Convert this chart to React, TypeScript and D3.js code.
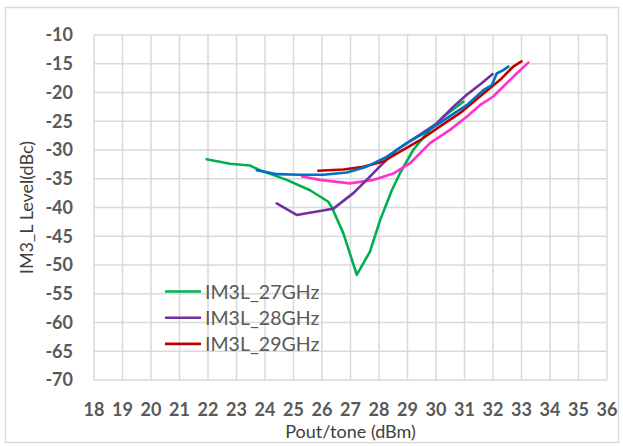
import React from "react";
import * as d3 from "d3";

type Pt = [number, number];

// Pout/tone (dBm) vs IM3 lower-side level (dBc)
const im3l27GHz: Pt[] = [
  [21.95, -31.6], [22.77, -32.4], [23.47, -32.7], [23.82, -33.5], [24.76, -35.2],
  [25.58, -37.0], [26.22, -39.0], [26.34, -39.9], [26.75, -44.5], [27.22, -51.7],
  [27.68, -47.7], [28.04, -42.2], [28.45, -37.0], [28.74, -34.0], [29.2, -30.0],
  [29.67, -27.1], [30.26, -24.2], [30.96, -21.6],
];
const im3l28GHz: Pt[] = [
  [24.41, -39.3], [25.11, -41.3], [25.93, -40.6], [26.4, -40.2], [27.1, -37.5],
  [27.57, -35.2], [28.04, -32.8], [28.62, -30.0], [29.32, -27.7], [30.02, -25.4],
  [30.6, -22.5], [31.08, -20.4], [31.6, -18.4], [31.99, -16.8],
];
const im3l29GHz: Pt[] = [
  [25.87, -33.6], [26.75, -33.4], [27.45, -32.9], [28.15, -32.0], [28.74, -30.3],
  [29.44, -28.3], [30.14, -25.9], [30.84, -23.6], [31.54, -20.7], [32.25, -17.8],
  [32.71, -15.5], [33.0, -14.6],
];
const im3lMagenta: Pt[] = [
  [25.3, -34.6], [25.93, -35.2], [26.98, -35.8], [27.8, -35.2], [28.5, -34.1],
  [29.09, -32.3], [29.79, -28.8], [30.49, -26.5], [31.08, -24.2], [31.54, -22.2],
  [32.01, -20.7], [32.48, -18.4], [32.83, -16.7], [33.24, -14.8],
];
const im3lBlue: Pt[] = [
  [23.71, -33.5], [24.41, -34.2], [25.23, -34.3], [26.05, -34.3], [26.87, -33.9],
  [27.57, -32.9], [28.27, -31.2], [28.97, -28.8], [29.67, -26.8], [30.37, -24.5],
  [31.08, -22.2], [31.66, -19.6], [31.96, -18.7], [32.13, -16.7], [32.36, -16.1],
  [32.54, -15.5],
];

const xTicks = d3.range(18, 37, 1);
const yTicks = d3.range(-10, -71, -5);

const series = [
  { name: "IM3L_27GHz", data: im3l27GHz, color: "#00B050", legend: true },
  { name: "IM3L_28GHz", data: im3l28GHz, color: "#7030A0", legend: true },
  { name: "IM3L_29GHz", data: im3l29GHz, color: "#C00000", legend: true },
  { name: "magenta", data: im3lMagenta, color: "#FF33CC", legend: false },
  { name: "blue", data: im3lBlue, color: "#0070C0", legend: false },
];

const W = 623;
const H = 446;
const plot = { left: 94, right: 607, top: 35, bottom: 380 };
const font = "Lato, 'Open Sans', sans-serif";
const textColor = "#595959";
const gridColor = "#d9d9d9";

export default function App() {
  const x = d3.scaleLinear().domain([18, 36]).range([plot.left, plot.right]);
  const y = d3.scaleLinear().domain([-70, -10]).range([plot.bottom, plot.top]);
  const line = d3
    .line<Pt>()
    .x((d) => x(d[0]))
    .y((d) => y(d[1]));

  const drawOrder = [series[0], series[3], series[1], series[2], series[4]];

  return (
    <svg
      width={W}
      height={H}
      style={{ position: "absolute", left: 0, top: 0, background: "#fff" }}
    >
      <rect x={5.5} y={7.5} width={613} height={435} fill="#fff" stroke="#d9d9d9" strokeWidth={1.5} />
      {xTicks.map((t) => (
        <line key={"gx" + t} x1={x(t)} x2={x(t)} y1={plot.top} y2={plot.bottom} stroke={gridColor} strokeWidth={1.5} />
      ))}
      {yTicks.map((t) => (
        <line key={"gy" + t} x1={plot.left} x2={plot.right} y1={y(t)} y2={y(t)} stroke={gridColor} strokeWidth={1.5} />
      ))}
      {yTicks.map((t) => (
        <text
          key={"ty" + t}
          x={73}
          y={y(t)}
          dy="0.36em"
          textAnchor="end"
          fontFamily={font}
          fontWeight="bold"
          fontSize={18}
          fill={textColor}
        >
          {t}
        </text>
      ))}
      {xTicks.map((t) => (
        <text
          key={"tx" + t}
          x={x(t)}
          y={416}
          textAnchor="middle"
          fontFamily={font}
          fontWeight="bold"
          fontSize={18}
          fill={textColor}
        >
          {t}
        </text>
      ))}
      <text
        transform={`translate(33, ${(plot.top + plot.bottom) / 2}) rotate(-90)`}
        textAnchor="middle"
        fontFamily={font}
        fontSize={18}
        fill="#404040"
      >
        IM3_L Level(dBc)
      </text>
      <text
        x={(plot.left + plot.right) / 2}
        y={438}
        textAnchor="middle"
        fontFamily={font}
        fontSize={18}
        fill="#404040"
      >
        Pout/tone (dBm)
      </text>
      {drawOrder.map((s) => (
        <path
          key={s.name}
          d={line(s.data) ?? ""}
          fill="none"
          stroke={s.color}
          strokeWidth={2.6}
          strokeLinejoin="round"
          strokeLinecap="round"
        />
      ))}
      {series
        .filter((s) => s.legend)
        .map((s, i) => {
          const ly = 291.5 + i * 26.2;
          return (
            <g key={"lg" + s.name}>
              <line x1={165} x2={201} y1={ly} y2={ly} stroke={s.color} strokeWidth={2.6} />
              <text
                x={205}
                y={ly}
                dy="0.36em"
                fontFamily={font}
                fontSize={19.5}
                fill={textColor}
              >
                {s.name}
              </text>
            </g>
          );
        })}
    </svg>
  );
}
